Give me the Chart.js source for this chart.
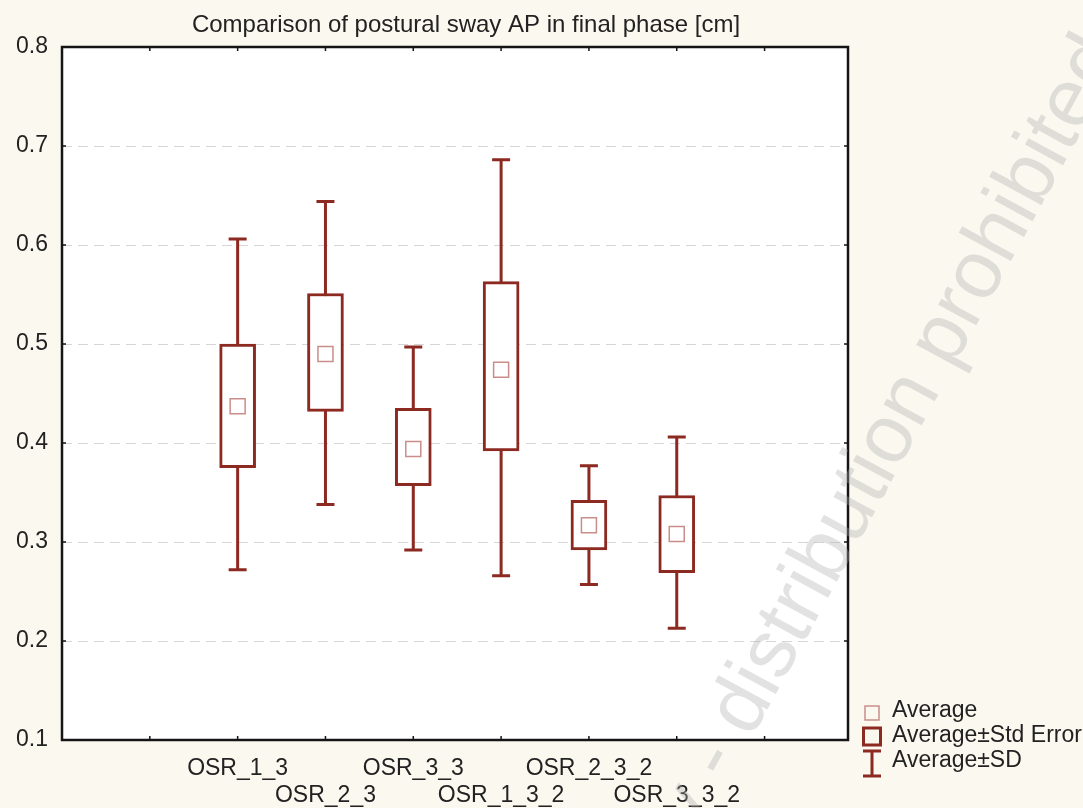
<!DOCTYPE html>
<html>
<head>
<meta charset="utf-8">
<title>Comparison of postural sway AP in final phase</title>
<script src="https://cdn.jsdelivr.net/npm/chart.js@4.4.1/dist/chart.umd.min.js"></script>
<style>
  html, body { margin: 0; padding: 0; background: #fbf8f0; }
  #wrap { width: 1083px; height: 808px; }
</style>
</head>
<body>
<div id="wrap"><canvas id="swayChart" width="1083" height="808"></canvas></div>
<script>
// ---- data ----
const GROUPS   = ['OSR_1_3', 'OSR_2_3', 'OSR_3_3', 'OSR_1_3_2', 'OSR_2_3_2', 'OSR_3_3_2'];
const X_POS    = [2, 3, 4, 5, 6, 7];
const MEANS    = [0.437, 0.490, 0.394, 0.474, 0.317, 0.308];
const SE_LOW   = [0.375, 0.432, 0.357, 0.392, 0.292, 0.269];
const SE_HIGH  = [0.500, 0.551, 0.435, 0.563, 0.342, 0.347];
const SD_LOW   = [0.272, 0.338, 0.292, 0.266, 0.257, 0.213];
const SD_HIGH  = [0.606, 0.644, 0.497, 0.686, 0.377, 0.406];
const Y_TICKS  = [0.1, 0.2, 0.3, 0.4, 0.5, 0.6, 0.7, 0.8];
const LEGEND   = ['Average', 'Average\u00b1Std Error', 'Average\u00b1SD'];

const DARK  = '#8c2a22';
const LIGHT = '#c98e8a';
const FONT  = "'Liberation Sans', Arial, sans-serif";

// ---- painting helpers: background, whiskers, frame, title, legend ----
const decor = {
  id: 'decor',
  beforeDraw(chart) {
    const { ctx, chartArea: a } = chart;
    ctx.save();
    ctx.fillStyle = '#fbf8f0';
    ctx.fillRect(0, 0, chart.width, chart.height);
    ctx.fillStyle = '#ffffff';
    ctx.fillRect(a.left, a.top, a.right - a.left, a.bottom - a.top);
    ctx.restore();
  },
  beforeDatasetsDraw(chart) {
    // SD whiskers behind the white-filled SE boxes
    const { ctx, scales: { x, y } } = chart;
    ctx.save();
    ctx.strokeStyle = DARK;
    ctx.lineWidth = 3;
    X_POS.forEach((v, i) => {
      const px = x.getPixelForValue(v);
      const top = y.getPixelForValue(SD_HIGH[i]);
      const bot = y.getPixelForValue(SD_LOW[i]);
      ctx.beginPath();
      ctx.moveTo(px, top); ctx.lineTo(px, bot);
      ctx.moveTo(px - 9, top); ctx.lineTo(px + 9, top);
      ctx.moveTo(px - 9, bot); ctx.lineTo(px + 9, bot);
      ctx.stroke();
    });
    ctx.restore();
  },
  afterDatasetsDraw(chart) {
    const { ctx, chartArea: a, scales: { x, y } } = chart;
    ctx.save();

    // frame + inward tick marks
    ctx.strokeStyle = '#151515';
    ctx.lineWidth = 2.5;
    ctx.strokeRect(a.left, a.top, a.right - a.left, a.bottom - a.top);
    ctx.lineWidth = 1.5;
    ctx.beginPath();
    for (let v = 1; v <= 8; v++) {
      const px = x.getPixelForValue(v);
      ctx.moveTo(px, a.top); ctx.lineTo(px, a.top + 4);
      ctx.moveTo(px, a.bottom); ctx.lineTo(px, a.bottom - 4);
    }
    Y_TICKS.slice(1, -1).forEach(v => {
      const py = y.getPixelForValue(v);
      ctx.moveTo(a.left, py); ctx.lineTo(a.left + 4, py);
      ctx.moveTo(a.right, py); ctx.lineTo(a.right - 4, py);
    });
    ctx.stroke();

    // title
    ctx.fillStyle = '#222';
    ctx.font = '24px ' + FONT;
    ctx.textAlign = 'center';
    ctx.textBaseline = 'middle';
    ctx.fillText('Comparison of postural sway AP in final phase [cm]', 466, 25);

    // legend
    const lx = 872;
    ctx.strokeStyle = LIGHT;
    ctx.lineWidth = 1.5;
    ctx.strokeRect(lx - 7, 706, 14, 14);
    ctx.strokeStyle = DARK;
    ctx.lineWidth = 3;
    ctx.strokeRect(lx - 8.5, 728, 17, 17);
    ctx.beginPath();
    ctx.moveTo(lx, 751); ctx.lineTo(lx, 776);
    ctx.moveTo(lx - 9, 751); ctx.lineTo(lx + 9, 751);
    ctx.moveTo(lx - 9, 776); ctx.lineTo(lx + 9, 776);
    ctx.stroke();
    ctx.fillStyle = '#222';
    ctx.font = '23px ' + FONT;
    ctx.textAlign = 'left';
    [711, 736, 761].forEach((ty, i) => ctx.fillText(LEGEND[i], 892, ty));

    // watermark
    ctx.translate(645, 935);
    ctx.rotate(-61.5 * Math.PI / 180);
    ctx.fillStyle = 'rgba(175,175,175,0.36)';
    ctx.font = '82px ' + FONT;
    ctx.textBaseline = 'alphabetic';
    ctx.fillText('only - distribution prohibited', 0, 0);
    ctx.restore();
  }
};

const ctx = document.getElementById('swayChart').getContext('2d');

new Chart(ctx, {
  type: 'bar',
  data: {
    datasets: [
      {
        type: 'line',
        label: 'Average',
        data: X_POS.map((v, i) => ({ x: v, y: MEANS[i] })),
        showLine: false,
        pointStyle: 'rect',
        pointRadius: 10.6,
        pointBorderWidth: 1.5,
        pointBorderColor: LIGHT,
        pointBackgroundColor: 'rgba(0,0,0,0)'
      },
      {
        label: 'Average\u00b1Std Error',
        data: X_POS.map((v, i) => ({ x: v, y: [SE_LOW[i], SE_HIGH[i]] })),
        backgroundColor: '#ffffff',
        borderColor: DARK,
        borderWidth: 3,
        borderSkipped: false,
        barThickness: 36
      }
    ]
  },
  options: {
    responsive: false,
    animation: false,
    layout: { padding: { top: 47, right: 235, left: 0, bottom: 0 } },
    scales: {
      x: {
        type: 'linear',
        min: 0,
        max: 8.95,
        offset: false,
        afterBuildTicks: axis => { axis.ticks = X_POS.map(v => ({ value: v })); },
        afterFit: axis => { axis.height = 68; },
        grid: { display: false, drawTicks: false, offset: false },
        border: { display: false },
        ticks: {
          autoSkip: false,
          maxRotation: 0,
          padding: 15,
          color: '#222',
          font: { family: FONT, size: 23, lineHeight: 1.17 },
          callback: (value, index) => index % 2 === 0 ? [GROUPS[index], ''] : ['', GROUPS[index]]
        }
      },
      y: {
        min: 0.1,
        max: 0.8,
        afterBuildTicks: axis => { axis.ticks = Y_TICKS.map(v => ({ value: v })); },
        afterFit: axis => { axis.width = 62; },
        grid: { color: '#d6d6d6', lineWidth: 1, drawTicks: false },
        border: { display: false, dash: [10, 6] },
        ticks: {
          padding: 14,
          color: '#222',
          font: { family: FONT, size: 23 },
          callback: v => v.toFixed(1)
        }
      }
    },
    plugins: {
      legend: { display: false },
      title: { display: false },
      tooltip: { enabled: false }
    }
  },
  plugins: [decor]
});
</script>
</body>
</html>
